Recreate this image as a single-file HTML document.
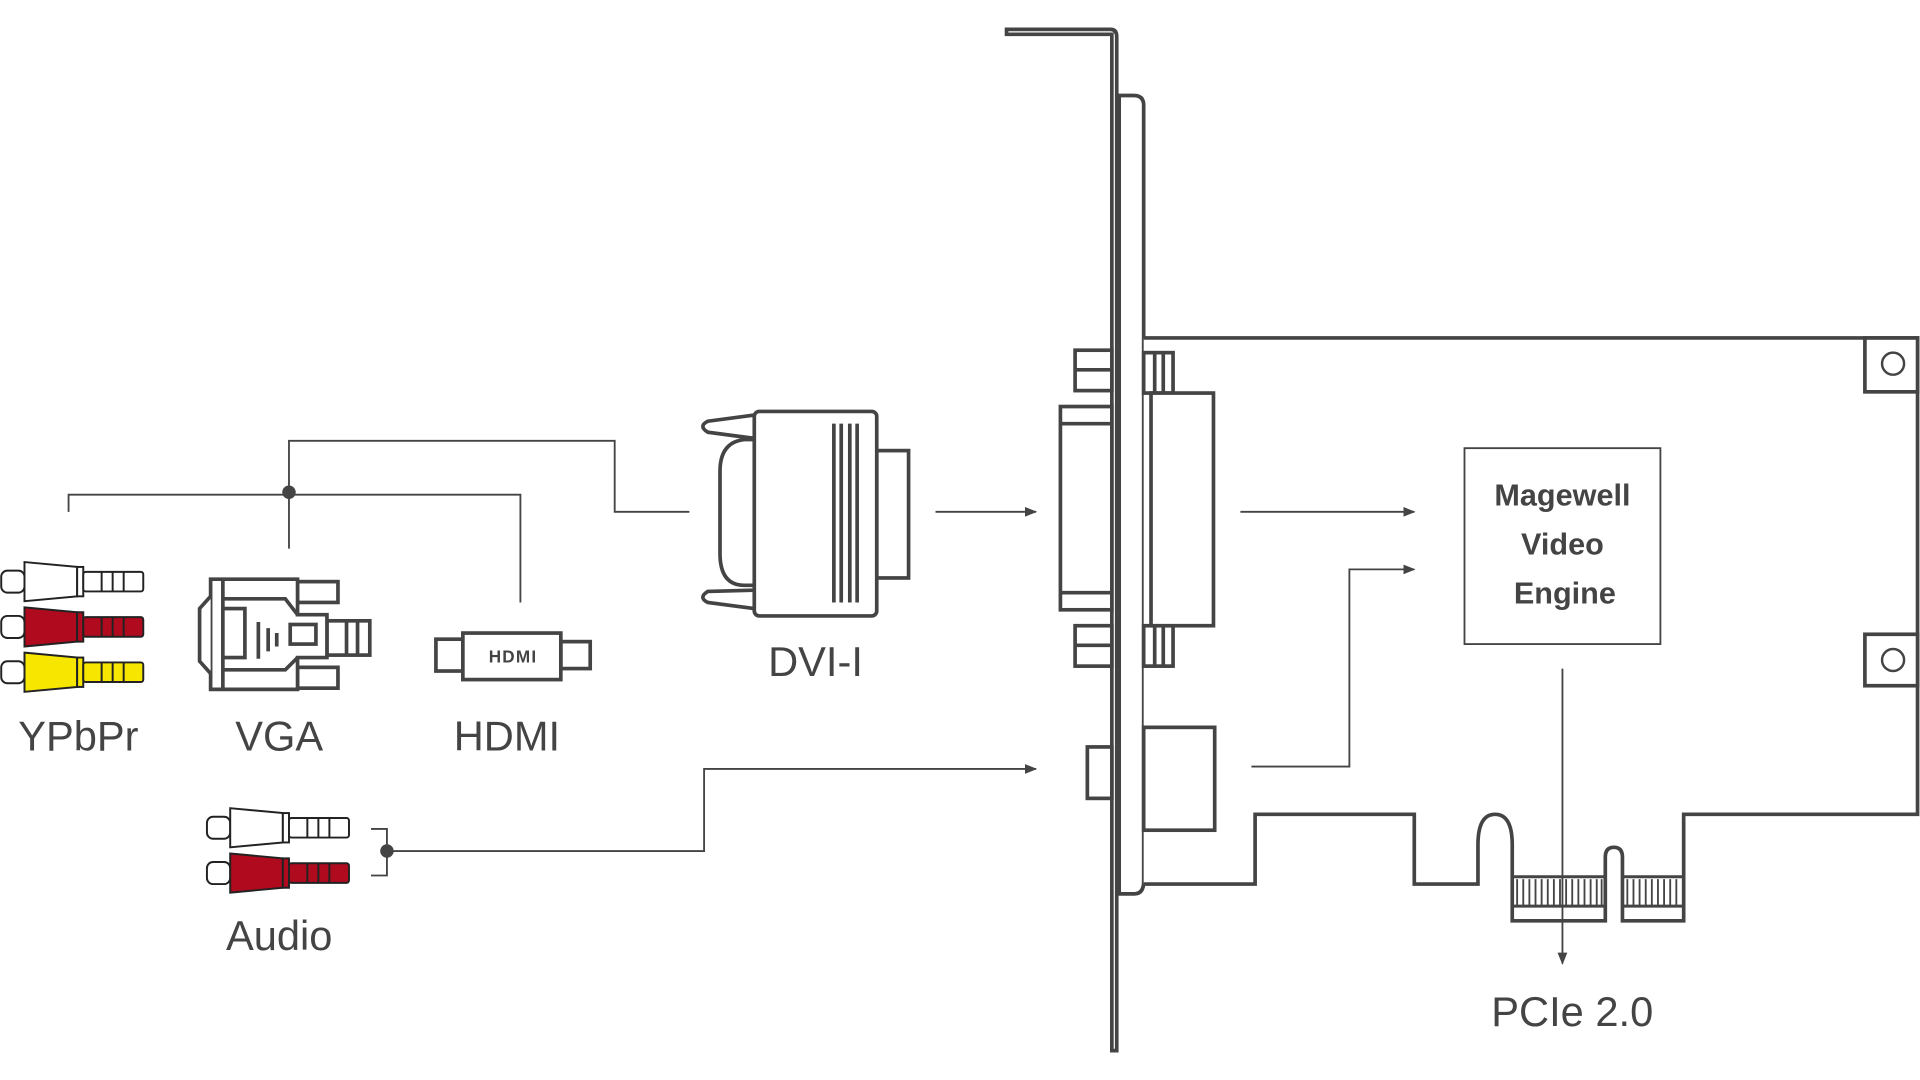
<!DOCTYPE html>
<html><head><meta charset="utf-8"><style>
html,body{margin:0;padding:0;background:#fff;}
svg{display:block}
text{font-family:"Liberation Sans",sans-serif;fill:#444}
</style></head><body>
<svg width="1920" height="1080" viewBox="0 0 1568 882" xmlns="http://www.w3.org/2000/svg">
<defs>
<marker id="ah" markerWidth="10" markerHeight="8" refX="9" refY="4" orient="auto" markerUnits="userSpaceOnUse">
<path d="M0,0 L10,4 L0,8 z" fill="#444"/></marker>
<g id="plug">
<rect x="1" y="-9" width="19" height="18" rx="5" fill="#fff" stroke="#222" stroke-width="1.6"/>
<path d="M20,-16 L63,-12 L63,12 L20,16 z" stroke="#222" stroke-width="1.6"/>
<rect x="63" y="-12" width="5" height="24" stroke="#222" stroke-width="1.6"/>
<rect x="68" y="-8" width="49" height="16" rx="2" stroke="#222" stroke-width="1.6"/>
<path d="M83,-8V8M92,-8V8M101,-8V8" stroke="#222" stroke-width="1.6"/>
</g>
</defs>

<g fill="none" stroke="#444" stroke-width="1.5">
<path d="M56,418 V404 H425 V492"/>
<path d="M236,448 V360 H502 V418 H563"/>
<path d="M764,418 H846" marker-end="url(#ah)"/>
<path d="M303,677 H316 V715 H303"/>
<path d="M316,695 H575 V628 H846" marker-end="url(#ah)"/>
</g>
<circle cx="236" cy="402" r="5.5" fill="#444"/>
<circle cx="316" cy="695" r="5.5" fill="#444"/>

<use href="#plug" transform="translate(0,475)" fill="#fff"/>
<use href="#plug" transform="translate(0,512)" fill="#b00a1e"/>
<use href="#plug" transform="translate(0,549)" fill="#f7e600"/>
<use href="#plug" transform="translate(168,676)" fill="#fff"/>
<use href="#plug" transform="translate(168,713)" fill="#b00a1e"/>

<g fill="#fff" stroke="#444" stroke-width="3">
<rect x="243" y="475" width="33" height="17"/>
<rect x="243" y="545" width="33" height="17"/>
<rect x="267" y="507" width="35" height="28"/>
<path d="M283,507V535M292,507V535" />
<path d="M172,473 H243 V502 H267 V537 H243 V563 H172 z"/>
<path d="M172,487 L163,497 V540 L172,550"/>
<path d="M182,473 V563"/>
<path d="M182,489 H233 L243,502 M182,547 H233 L243,537"/>
<rect x="182" y="497" width="18" height="40"/>
<rect x="237" y="510" width="21" height="16"/>
<path d="M211,508V538M219,513V532M226,517V528"/>
</g>

<g fill="#fff" stroke="#444" stroke-width="3">
<rect x="356" y="522" width="22" height="26"/>
<rect x="458" y="524" width="24" height="22"/>
<rect x="378" y="517" width="80" height="38"/>
</g>
<text x="419" y="541" font-size="14" font-weight="bold" text-anchor="middle" letter-spacing="1">HDMI</text>

<g fill="#fff" stroke="#444" stroke-width="3">
<rect x="716" y="368" width="26" height="104"/>
<path d="M616,339 L578,344 Q570,348 578,353 L616,358 M616,482 L578,483 Q570,488 578,492 L616,497" />
<path d="M616,359 H608 Q588,361 588,385 V452 Q588,478 608,478 H616"/>
<rect x="616" y="336" width="100" height="167" rx="4"/>
<path d="M681,346V492M687,346V492M694,346V492M700,346V492"/>
</g>

<g fill="#fff" stroke="#444" stroke-width="3">
<path d="M822,24 H907 Q912,24 912,30 V858 H908 V28 H822 z"/>
<path d="M914,78 H926 Q934,78 934,86 V720 Q934,730 926,730 H914 z"/>
<path d="M934,276 H1566 V665 H1375 V752 H1325 V700 Q1325,692 1318,692 Q1311,692 1311,700 V752 H1235 V690 Q1235,665 1221,665 Q1207,665 1207,690 V722 H1155 V665 H1025 V722 H934"/>
<rect x="1523" y="276" width="43" height="44"/>
<rect x="1523" y="518" width="43" height="42"/>
<rect x="1196" y="366" width="160" height="160" stroke-width="1.5"/>
<rect x="878" y="286" width="30" height="33"/>
<rect x="878" y="511" width="30" height="33"/>
<rect x="866" y="332" width="42" height="166"/>
<path d="M866,346H908M866,484H908M878,302H908M878,527H908"/>
<rect x="934" y="288" width="24" height="33"/>
<rect x="934" y="511" width="24" height="33"/>
<path d="M943,288V321M950,288V321M943,511V544M950,511V544"/>
<rect x="940" y="321" width="51" height="190"/>
<rect x="888" y="610" width="20" height="42"/>
<rect x="934" y="594" width="58" height="84"/>
</g>
<g stroke="#444" stroke-width="1.5" fill="none">
<path d="M1235,716H1311M1325,716H1375" stroke-width="2.5"/>
<path d="M1239,718V740M1244,718V740M1249,718V740M1254,718V740M1259,718V740M1264,718V740M1269,718V740M1274,718V740M1279,718V740M1284,718V740M1289,718V740M1294,718V740M1299,718V740M1304,718V740M1308,718V740"/>
<path d="M1329,718V740M1334,718V740M1339,718V740M1344,718V740M1349,718V740M1354,718V740M1359,718V740M1364,718V740M1369,718V740"/>
<path d="M1235,740H1311M1325,740H1375" stroke-width="2.5"/>
</g>
<circle cx="1546" cy="297" r="9" fill="none" stroke="#444" stroke-width="2"/>
<circle cx="1546" cy="539" r="9" fill="none" stroke="#444" stroke-width="2"/>

<g fill="none" stroke="#444" stroke-width="1.5">
<path d="M1013,418 H1155" marker-end="url(#ah)"/>
<path d="M1022,626 H1102 V465 H1155" marker-end="url(#ah)"/>
<path d="M1276,546 V787" marker-end="url(#ah)"/>
</g>

<g font-size="34" text-anchor="middle">
<text x="64" y="613">YPbPr</text>
<text x="228" y="613">VGA</text>
<text x="414" y="613">HDMI</text>
<text x="666" y="552">DVI-I</text>
<text x="228" y="776">Audio</text>
<text x="1284" y="838">PCIe 2.0</text>
</g>
<g font-size="25" font-weight="bold" text-anchor="middle">
<text x="1276" y="413">Magewell</text>
<text x="1276" y="453">Video</text>
<text x="1278" y="493">Engine</text>
</g>
</svg>
</body></html>
